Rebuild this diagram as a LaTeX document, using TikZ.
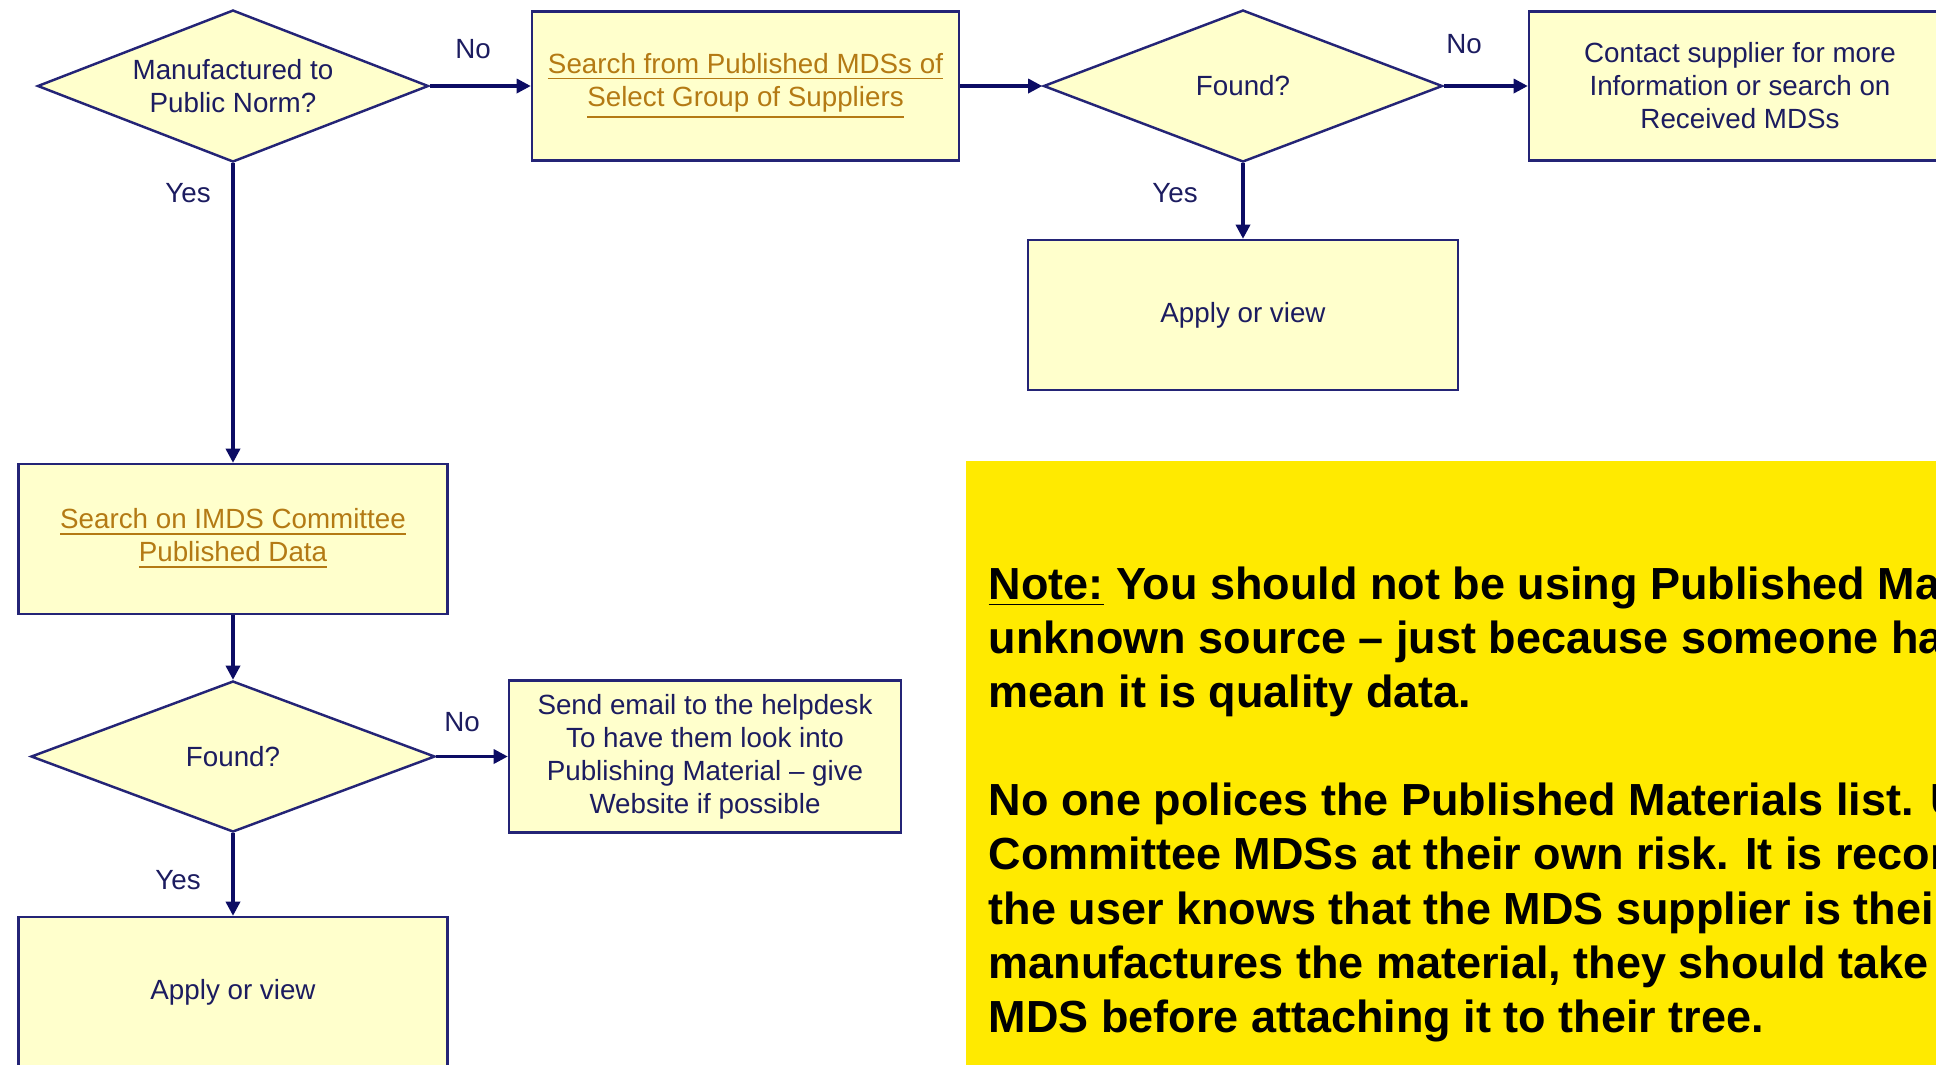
\documentclass[tikz,border=0pt]{standalone}
\usepackage{fontspec}
\setmainfont{Liberation Sans}
\usepackage{tikz}
\usetikzlibrary{shapes.geometric,arrows.meta}
\definecolor{navyLine}{RGB}{36,36,118}
\definecolor{navyText}{RGB}{28,28,96}
\definecolor{arrowNavy}{RGB}{12,12,100}
\definecolor{boxYellow}{RGB}{255,255,204}
\definecolor{noteYellow}{RGB}{255,234,0}
\definecolor{linkBrown}{RGB}{180,122,20}

\begin{document}
\begin{tikzpicture}[font=\fontsize{7.9}{9.4}\selectfont,
  proc/.style={rectangle,draw=navyLine,line width=0.7pt,fill=boxYellow,
               text=navyText,align=center,inner sep=2pt,minimum height=1.5cm},
  dec/.style={diamond,aspect=2.6,draw=navyLine,line width=0.7pt,fill=boxYellow,
              text=navyText,align=center,inner sep=0pt,minimum height=1.52cm},
  link/.style={text=linkBrown},
  lbl/.style={text=navyText,inner sep=0pt}]

  \useasboundingbox (0,0) rectangle (19.36,-10.64);

  % Branche du haut
  \node[dec,minimum width=3.91cm] (norm)   at (2.33,-0.86)  {Manufactured to\\Public Norm?};
  \node[proc,link,minimum width=4.27cm,minimum height=1.49cm] (pubsel) at (7.455,-0.86)
    {\underline{Search from Published MDSs of}\\\underline{Select Group of Suppliers}};
  \node[dec,minimum width=3.99cm] (found1) at (12.43,-0.86) {Found?};
  \node[proc,minimum width=4.22cm,minimum height=1.49cm] (contact) at (17.40,-0.86)
    {Contact supplier for more\\Information or search on\\Received MDSs};
  \node[proc,minimum width=4.30cm] (apply1) at (12.43,-3.15) {Apply or view};

  % Branche du bas
  \node[proc,link,minimum width=4.29cm] (imds) at (2.33,-5.39)
    {\underline{Search on IMDS Committee}\\\underline{Published Data}};
  \node[dec,minimum width=4.04cm,minimum height=1.51cm] (found2) at (2.33,-7.565) {Found?};
  \node[proc,minimum width=3.92cm,minimum height=1.52cm] (helpdesk) at (7.05,-7.565)
    {Send email to the helpdesk\\To have them look into\\Publishing Material -- give\\Website if possible};
  \node[proc,minimum width=4.29cm] (apply2) at (2.33,-9.92) {Apply or view};

  % Etiquettes
  \node[lbl] (no1)  at (4.73,-0.49)  {No};
  \node[lbl] (yes1) at (1.88,-1.93)  {Yes};
  \node[lbl] (no2)  at (14.64,-0.44) {No};
  \node[lbl] (yes2) at (11.75,-1.93) {Yes};
  \node[lbl] (no3)  at (4.62,-7.22)  {No};
  \node[lbl] (yes3) at (1.78,-8.80)  {Yes};

  % Flèches
  \foreach \a/\b in {norm.east/pubsel.west,pubsel.east/found1.west,found1.east/contact.west,
                     found1.south/apply1.north,norm.south/imds.north,imds.south/found2.north,
                     found2.east/helpdesk.west,found2.south/apply2.north}
    \draw[-{Triangle[length=4pt,width=4pt]},arrowNavy,line width=0.9pt] (\a)--(\b);

  % Note
  \fill[noteYellow] (9.66,-4.61) rectangle (19.6,-10.8);
  \node[anchor=north west,align=left,inner sep=0pt,
        font=\fontsize{12.8}{15.4}\selectfont\bfseries] (note) at (9.88,-5.66)
    {\underline{Note:} You should not be using Published Mat\\
     unknown source -- just because someone ha\\
     mean it is quality data.\\[15.4pt]
     No one polices the Published Materials list. U\\
     Committee MDSs at their own risk. It is recom\\
     the user knows that the MDS supplier is their\\
     manufactures the material, they should take\\
     MDS before attaching it to their tree.};
\end{tikzpicture}
\end{document}
